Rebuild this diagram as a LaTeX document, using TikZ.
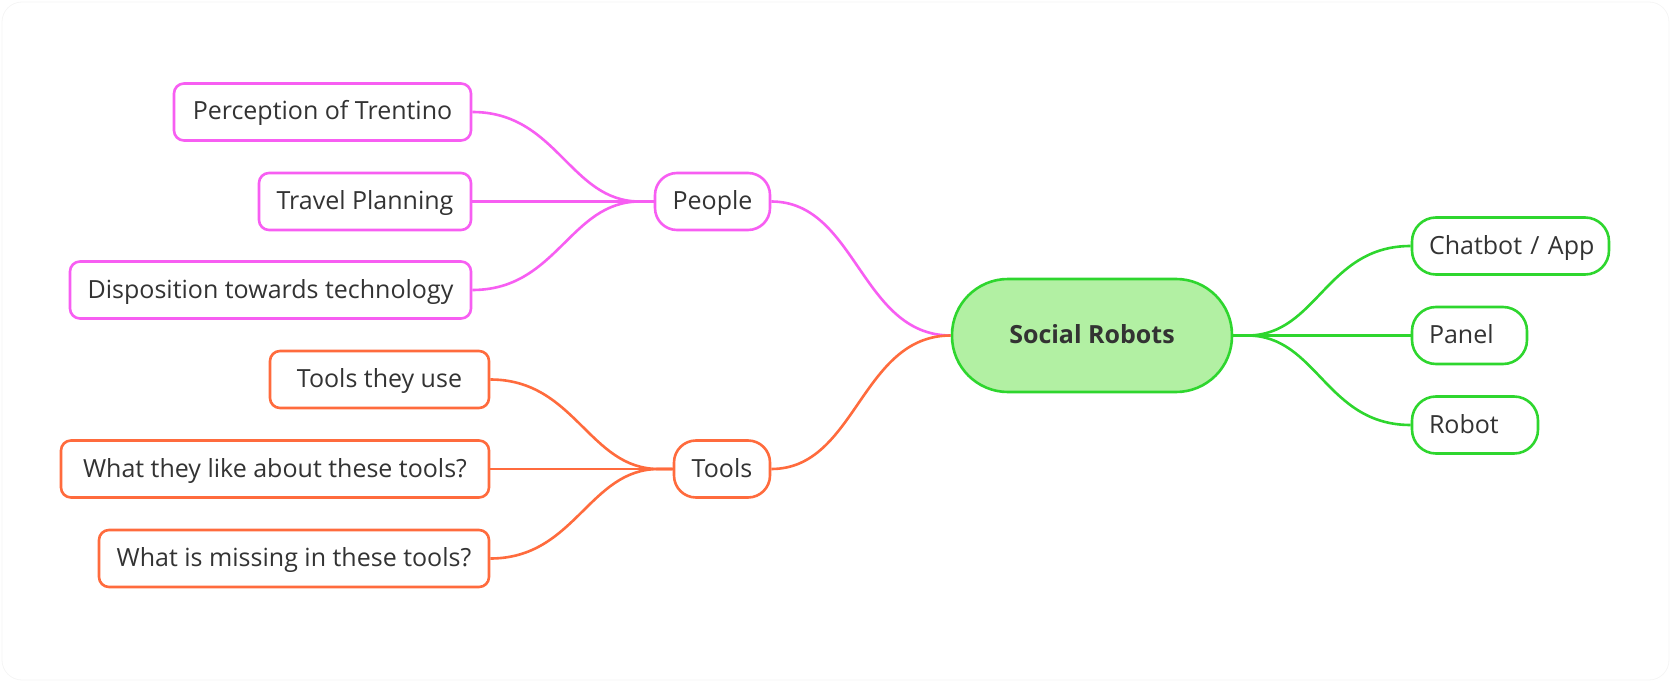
\documentclass[tikz,border=0pt]{standalone}
\usepackage{fontspec}
\setmainfont{Open Sans}
\definecolor{mag}{HTML}{F75EF2}
\definecolor{org}{HTML}{FF6B3D}
\definecolor{grn}{HTML}{2ED62E}
\definecolor{grnfill}{HTML}{B2F0A3}
\definecolor{txt}{HTML}{333333}
\begin{document}
\begin{tikzpicture}[x=1pt,y=-1pt,
  base/.style={draw, line width=2.6pt, fill=white, text=txt, font=\fontsize{25}{30}\selectfont,
    minimum height=57pt, inner sep=0pt, text height=18pt, text depth=2pt, anchor=center},
  leafL/.style={base, rounded corners=10pt, minimum width=#1, align=center},
  midn/.style={base, rounded corners=22pt, minimum width=#1},
  leafR/.style={base, rounded corners=24pt, minimum width=#1, text width=#1-34pt, align=left},
  conn/.style={line width=2.6pt}
]
\useasboundingbox (0,0) rectangle (1671,682);
\draw[black!4, line width=0.8pt, rounded corners=20pt] (2,2) rectangle (1669,680);

% nodes
\node[base, draw=grn, fill=grnfill, rounded corners=56pt, minimum width=280pt, minimum height=113pt,
  font=\fontsize{25}{30}\selectfont\bfseries] (sr) at (1092,335.5) {Social Robots};

\node[midn=115pt, draw=mag] (people) at (712.5,201.5) {People};
\node[midn=96pt, draw=org] (tools) at (722,469) {Tools};

\node[leafL=297pt, draw=mag] (perc) at (322.5,112) {Perception of Trentino};
\node[leafL=212pt, draw=mag] (travel) at (365,201.5) {Travel Planning};
\node[leafL=401pt, draw=mag] (disp) at (270.5,290) {Disposition towards technology};

\node[leafL=219pt, draw=org] (use) at (379.5,379.5) {Tools they use};
\node[leafL=428pt, draw=org] (like) at (275,469) {What they like about these tools?};
\node[leafL=390pt, draw=org] (miss) at (294,558.5) {What is missing in these tools?};

\node[leafR=197pt, draw=grn] (chat) at (1510.5,246) {\mbox{Chatbot / App}};
\node[leafR=115pt, draw=grn] (panel) at (1469.5,335.5) {\mbox{Panel}};
\node[leafR=126pt, draw=grn] (robot) at (1475,425) {\mbox{Robot}};

% connectors
\draw[conn, mag] (people.east) .. controls +(85,0) and +(-90,0) .. (sr.west);
\draw[conn, org] (tools.east) .. controls +(85,0) and +(-90,0) .. (sr.west);

\draw[conn, mag] (perc.east) .. controls +(85,0) and +(-70,0) .. ([xshift=-14pt]people.west) -- (people.west);
\draw[conn, mag] (travel.east) -- (people.west);
\draw[conn, mag] (disp.east) .. controls +(85,0) and +(-70,0) .. ([xshift=-14pt]people.west) -- (people.west);

\draw[conn, org] (use.east) .. controls +(85,0) and +(-70,0) .. ([xshift=-14pt]tools.west) -- (tools.west);
\draw[conn, org] (like.east) -- (tools.west);
\draw[conn, org] (miss.east) .. controls +(85,0) and +(-70,0) .. ([xshift=-14pt]tools.west) -- (tools.west);

\draw[conn, grn] (sr.east) -- ([xshift=14pt]sr.east) .. controls +(70,0) and +(-85,0) .. (chat.west);
\draw[conn, grn] (sr.east) -- (panel.west);
\draw[conn, grn] (sr.east) -- ([xshift=14pt]sr.east) .. controls +(70,0) and +(-85,0) .. (robot.west);
\end{tikzpicture}
\end{document}
